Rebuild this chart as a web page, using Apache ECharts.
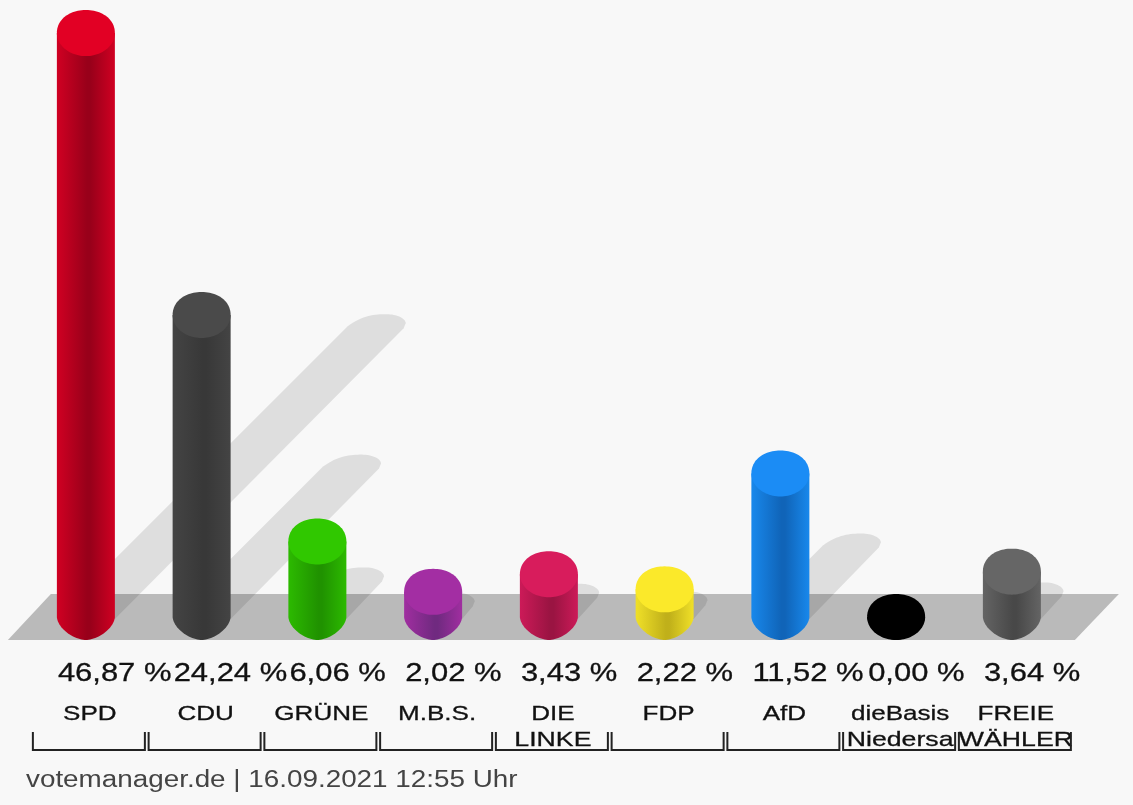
<!DOCTYPE html>
<html><head><meta charset="utf-8">
<style>html,body{margin:0;padding:0;background:#f8f8f8}#c{width:1133px;height:805px}</style>
<script src="https://cdn.jsdelivr.net/npm/echarts@6/dist/echarts.min.js"></script>
</head><body><div id="c"></div>
<script>
const parties = ['SPD','CDU','GRÜNE','M.B.S.','DIE\nLINKE','FDP','AfD','dieBasis\nNiedersa','FREIE\nWÄHLER'];
const shares = [46.87,24.24,6.06,2.02,3.43,2.22,11.52,0.00,3.64];
const footer = 'votemanager.de | 16.09.2021 12:55 Uhr';
const topColors  = ['#e20024','#4a4a4a','#30c800','#a32ea3','#d81c5c','#fbe92a','#1b8cf5','#000000','#666666'];
const edgeColors = ['#d00022','#444444','#2cba00','#a02ea0','#cc1a58','#f0e028','#1888ec','#000000','#646464'];
const darkColors = ['#98001a','#383838','#209200','#702a80','#9a1442','#c0b01a','#1064b8','#000000','#484848'];

const RX = 29, RY = 23;
const FONT = 'Liberation Sans, Arial, sans-serif';
const series = [];
const data = shares.map((v,i)=>[i,v]);
const common = {type:'custom',coordinateSystem:'cartesian2d',silent:true,animation:false,encode:{x:0,y:1},clip:false};

// half of a super-ellipse: sgn=+1 lower half, -1 upper half, running left to right
function halfCurve(cx,cy,n,sgn){
  const out=[];
  for(let k=0;k<=48;k++){
    const a=Math.PI*(1-k/48);
    const c=Math.cos(a),s=Math.sin(a);
    out.push([cx+RX*Math.sign(c)*Math.pow(Math.abs(c),2/n),cy+sgn*RY*Math.pow(Math.abs(s),2/n)]);
  }
  return out;
}
function bez(p0,p1,p2,p3,out){
  for(let k=0;k<=16;k++){
    const t=k/16,u=1-t;
    out.push([u*u*u*p0[0]+3*u*u*t*p1[0]+3*u*t*t*p2[0]+t*t*t*p3[0],
              u*u*u*p0[1]+3*u*u*t*p1[1]+3*u*t*t*p2[1]+t*t*t*p3[1]]);
  }
}

// floor
series.push(Object.assign({},common,{z:1,data:[[0,0]],renderItem(p,api){
  const o=api.coord([0,0]);
  const st=api.size([1,0])[0];
  const yb=o[1]+RY, yt=o[1]-RY;
  const xl=o[0]-78, xr=o[0]+st*8+63;
  return {type:'polygon',shape:{points:[[xl,yb],[xl+43,yt],[xr+44,yt],[xr,yb]]},style:{fill:'#bababa'}};
}}));
// shadows
series.push(Object.assign({},common,{z:2,data,renderItem(p,api){
  const i=api.value(0),v=api.value(1);
  if(v<=0) return null;
  const b=api.coord([i,0]),t=api.coord([i,v]);
  const d=(b[1]-t[1])*0.498;
  const cx=b[0]+d,cy=b[1]-d;
  const P=(x,y)=>[cx+x,cy+y];
  const pts=[];
  bez(P(-29,0),P(-14,-11),P(-2,-12),P(10,-12),pts);
  bez(P(10,-12),P(20,-12),P(29,-8),P(29,-3),pts);
  pts.push(P(27,2));
  pts.push([b[0]+RX,b[1]+2]);pts.push([b[0]-RX,b[1]]);
  return {type:'polygon',shape:{points:pts},style:{fill:'rgba(0,0,0,0.1)'}};
}}));
// cylinders
series.push(Object.assign({},common,{z:3,data,renderItem(p,api){
  const i=api.value(0),v=api.value(1);
  const b=api.coord([i,0]),t=api.coord([i,v]);
  const body=[[b[0]-RX,t[1]]].concat(halfCurve(b[0],b[1],1.7,1),[[b[0]+RX,t[1]]]);
  const cap=halfCurve(t[0],t[1],2.1,-1).concat(halfCurve(t[0],t[1],2,1).reverse());
  return {type:'group',children:[
    {type:'polygon',shape:{points:body},style:{fill:{type:'linear',x:0,y:0,x2:1,y2:0,colorStops:[
      {offset:0,color:edgeColors[i]},{offset:0.52,color:darkColors[i]},{offset:0.58,color:darkColors[i]},{offset:1,color:edgeColors[i]}]}}},
    {type:'polygon',shape:{points:cap},style:{fill:topColors[i]}}
  ]};
}}));
// labels and brackets
series.push(Object.assign({},common,{z:4,data,renderItem(p,api){
  const i=api.value(0),v=api.value(1);
  const b=api.coord([i,0]);
  const kids=[];
  const txt=(s,x,y,size,sx,align,fill,sw)=>({type:'text',x,y,scaleX:sx,style:{text:s,x:0,y:0,font:size+'px '+FONT,fill,stroke:fill,lineWidth:sw,textAlign:align,textVerticalAlign:'middle'}});
  kids.push(txt(v.toFixed(2).replace('.',',')+' %',b[0]-28,674,26,1.19,'left','#111',0.3));
  const ls=parties[i].split('\n');
  kids.push(txt(ls[0],b[0]+4,714,21,1.24,'center','#111',0.3));
  if(ls[1]) kids.push(txt(ls[1],b[0]+4,740,21,1.27,'center','#111',0.3));
  kids.push({type:'polyline',shape:{points:[[b[0]-53,732],[b[0]-53,750],[b[0]+59,750],[b[0]+59,732]]},style:{fill:null,stroke:'#222',lineWidth:2}});
  if(i===0) kids.push(txt(footer,26,781,23,1.21,'left','#444',0));
  return {type:'group',children:kids};
}}));

const chart = echarts.init(document.getElementById('c'));
chart.setOption({
  backgroundColor:'#f8f8f8',animation:false,
  grid:{left:28,width:1041.75,top:19,height:598},
  xAxis:{type:'category',data:parties,show:false},
  yAxis:{type:'value',min:0,max:48,show:false},
  series
});
</script></body></html>
